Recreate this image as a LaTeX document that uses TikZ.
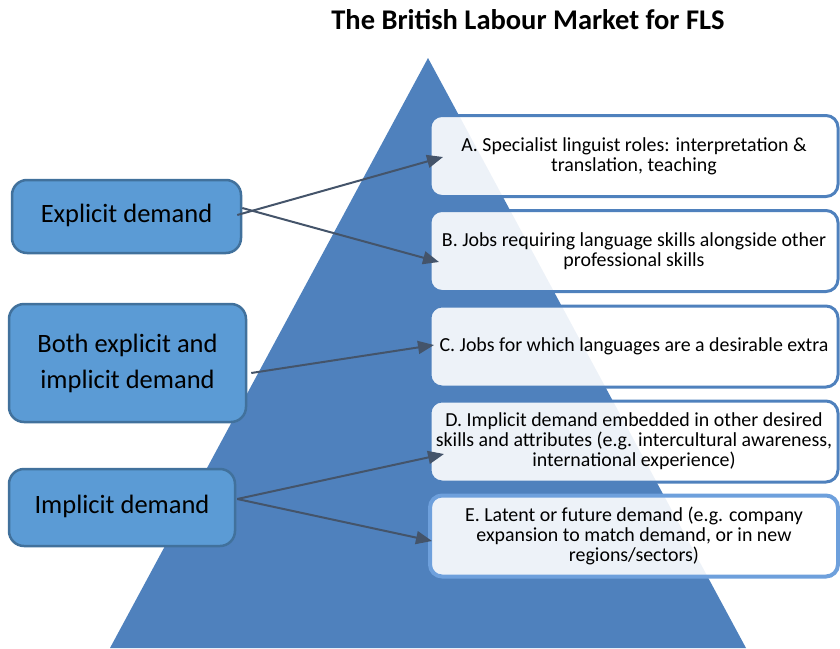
\documentclass[tikz,border=0pt]{standalone}
\usepackage{fontspec}
\setmainfont{Carlito}
\usetikzlibrary{arrows.meta,calc}
\definecolor{tri}{RGB}{79,129,189}
\definecolor{lfill}{RGB}{91,155,213}
\definecolor{ldraw}{RGB}{65,113,156}
\definecolor{rdraw}{RGB}{79,129,189}
\definecolor{edraw}{RGB}{110,160,220}
\definecolor{arr}{RGB}{68,84,106}
\tikzset{
  leftbox/.style={draw=ldraw, fill=lfill, line width=2.5pt, rounded corners=15pt,
    align=center, font=\fontsize{26.5}{37}\selectfont, inner sep=0pt},
  rightbox/.style={draw=rdraw, fill=white, fill opacity=0.9, text opacity=1,
    line width=3pt, rounded corners=12pt, minimum width=408pt, minimum height=81pt,
    align=center, font=\fontsize{19.9}{20}\selectfont, inner sep=0pt},
  conn/.style={draw=arr, line width=2pt, -{Triangle[length=16pt,width=13pt]}},
}
\begin{document}
\begin{tikzpicture}[x=1pt,y=-1pt]
\useasboundingbox (0,0) rectangle (840,648);
% title
\node[font=\fontsize{28.5}{32}\bfseries\selectfont, anchor=base] (title) at (528,29) {The British Labour Market for FLS};
% pyramid
\fill[tri] (428,58) -- (746,648) -- (110,648) -- cycle;
% right boxes
\node[rightbox] (A) at (634,156) {A. Specialist linguist roles: interpretation \&\\translation, teaching};
\node[rightbox] (B) at (634,251) {B. Jobs requiring language skills alongside other\\professional skills};
\node[rightbox] (C) at (634,346.5) {C. Jobs for which languages are a desirable extra};
\node[rightbox] (D) at (634,441.5) {D. Implicit demand embedded in other desired\\skills and attributes (e.g. intercultural awareness,\\international experience)};
\node[rightbox, draw=edraw, line width=4pt] (E) at (634,536) {E. Latent or future demand (e.g. company\\expansion to match demand, or in new\\regions/sectors)};
% left boxes
\node[leftbox, minimum width=229pt, minimum height=73pt] (expl) at (126.5,216.5) {\raisebox{7pt}{Explicit demand}};
\node[leftbox, minimum width=237pt, minimum height=118pt] (both) at (127.5,363) {\raisebox{3pt}{\begin{tabular}{@{}c@{}}Both explicit and\\[-1pt]implicit demand\end{tabular}}};
\node[leftbox, minimum width=226pt, minimum height=77pt] (impl) at (122,507.5) {\raisebox{6pt}{Implicit demand}};
% arrow targets
\coordinate (tA) at (443,157);
\coordinate (tB) at (439,262);
\coordinate (tC) at (434,345);
\coordinate (tD) at (444,454);
\coordinate (tE) at (432,541);
% connectors
\draw[conn] ([xshift=-5pt,yshift=1.5pt]expl.east) -- (tA);
\draw[conn] ([yshift=8.5pt]expl.east) -- (tB);
\draw[conn] ([xshift=4pt,yshift=-10pt]both.east) -- (tC);
\draw[conn] ([xshift=1pt,yshift=8.5pt]impl.east) -- (tD);
\draw[conn] ([xshift=1pt,yshift=8.5pt]impl.east) -- (tE);
\end{tikzpicture}
\end{document}
